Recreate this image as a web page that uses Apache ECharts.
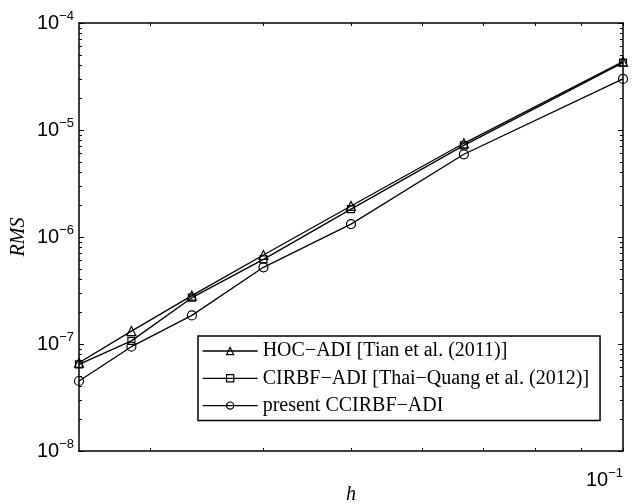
<!DOCTYPE html>
<html>
<head>
<meta charset="utf-8">
<script src="https://cdn.jsdelivr.net/npm/echarts@6/dist/echarts.min.js"></script>
<style>
  html, body { margin: 0; padding: 0; background: #fff; }
  #chart { width: 640px; height: 504px; }
</style>
</head>
<body>
<div id="chart"></div>
<script>
// Grid spacing h and RMS errors of the three ADI schemes
const gridSizes = [1 / 40, 1 / 35, 1 / 30, 1 / 25, 1 / 20, 1 / 15, 1 / 10];
const hocAdi    = [6.68e-8, 1.32e-7, 2.83e-7, 6.79e-7, 1.95e-6, 7.51e-6, 4.35e-5];
const cirbfAdi  = [6.46e-8, 1.07e-7, 2.71e-7, 6.18e-7, 1.82e-6, 7.19e-6, 4.26e-5];
const ccirbfAdi = [4.51e-8, 9.44e-8, 1.85e-7, 5.21e-7, 1.32e-6, 5.93e-6, 3.00e-5];
const seriesNames = [
  'HOC\u2212ADI [Tian et al. (2011)]',
  'CIRBF\u2212ADI [Thai\u2212Quang et al. (2012)]',
  'present CCIRBF\u2212ADI'
];

// Axis ranges and tick positions
const xMin = 0.025, xMax = 0.1;
const yMin = 1e-8, yMax = 1e-4;
const xTicks = [0.03, 0.04, 0.05, 0.06, 0.07, 0.08, 0.09, 0.1];
const xLabels = [0.1];
const yDecades = [1e-8, 1e-7, 1e-6, 1e-5, 1e-4];
const minorMultipliers = [2, 3, 4, 5, 6, 7, 8, 9];

const yMinorTicks = [];
yDecades.slice(0, -1).forEach(d => minorMultipliers.forEach(m => yMinorTicks.push(m * d)));

const sans = 'Liberation Sans, Arial, Helvetica, sans-serif';
const serif = 'Liberation Serif, Times New Roman, serif';

const powerRich = {
  b: { fontFamily: sans, fontSize: 20, lineHeight: 26, color: '#000' },
  s: { fontFamily: sans, fontSize: 13, lineHeight: 13, color: '#000', verticalAlign: 'top' }
};
function powerLabel(v) {
  const e = Math.round(Math.log10(v));
  return '{b|10}{s|' + (e < 0 ? '\u2212' + (-e) : e) + '}';
}

const frameLine = { show: true, lineStyle: { color: '#000', width: 1.5 } };
const hollow = { color: 'rgba(255,255,255,0)', borderColor: '#000', borderWidth: 1.2 };

function xAxisDef(position, withLabels) {
  return {
    type: 'log', logBase: 10, position: position, min: xMin, max: xMax,
    axisLine: frameLine,
    axisTick: { show: true, inside: true, length: 3, customValues: xTicks,
                lineStyle: { color: '#000', width: 1 } },
    axisLabel: withLabels
      ? { show: true, customValues: xLabels, formatter: powerLabel, rich: powerRich,
          align: 'right', margin: 16 }
      : { show: false },
    splitLine: { show: false },
    minorTick: { show: false },
    name: withLabels ? 'h' : '',
    nameLocation: 'middle',
    nameGap: 34,
    nameMoveOverlap: false,
    nameTextStyle: { fontFamily: serif, fontStyle: 'italic', fontSize: 20, color: '#000' }
  };
}

function yAxisDef(position, major, withLabels) {
  return {
    type: 'log', logBase: 10, position: position, min: yMin, max: yMax,
    axisLine: major ? frameLine : { show: false },
    axisTick: { show: true, inside: true, length: major ? 5 : 3,
                customValues: major ? yDecades : yMinorTicks,
                lineStyle: { color: '#000', width: 1 } },
    axisLabel: withLabels
      ? { show: true, customValues: yDecades, formatter: powerLabel, rich: powerRich, margin: 5 }
      : { show: false },
    splitLine: { show: false },
    minorTick: { show: false },
    name: withLabels ? 'RMS' : '',
    nameLocation: 'middle',
    nameGap: 50,
    nameMoveOverlap: false,
    nameTextStyle: { fontFamily: serif, fontStyle: 'italic', fontSize: 20, color: '#000' }
  };
}

function lineSeries(name, values, symbol, size) {
  return {
    name: name,
    type: 'line',
    xAxisIndex: 0,
    yAxisIndex: 0,
    data: gridSizes.map((h, i) => [h, values[i]]),
    symbol: symbol,
    symbolSize: size,
    showAllSymbol: true,
    lineStyle: { color: '#000', width: 1.3 },
    itemStyle: hollow,
    emphasis: { disabled: true },
    z: 3
  };
}

const chart = echarts.init(document.getElementById('chart'), null, { renderer: 'canvas' });
chart.setOption({
  animation: false,
  backgroundColor: '#fff',
  grid: { left: 79, right: 17, top: 23, bottom: 53, containLabel: false, outerBoundsMode: 'none' },
  xAxis: [xAxisDef('bottom', true), xAxisDef('top', false)],
  yAxis: [
    yAxisDef('left', true, true),
    yAxisDef('right', true, false),
    yAxisDef('left', false, false),
    yAxisDef('right', false, false)
  ],
  legend: {
    orient: 'vertical',
    left: 198,
    top: 336,
    itemWidth: 55,
    itemHeight: 9,
    itemGap: 7.3,
    padding: [5, 11, 5, 4],
    borderColor: '#000',
    borderWidth: 1.5,
    backgroundColor: '#fff',
    selectedMode: false,
    itemStyle: hollow,
    lineStyle: { color: '#000', width: 1.3 },
    textStyle: { fontFamily: serif, fontSize: 20, color: '#000' },
    data: seriesNames
  },
  series: [
    lineSeries(seriesNames[0], hocAdi, 'triangle', 9),
    lineSeries(seriesNames[1], cirbfAdi, 'rect', 7),
    lineSeries(seriesNames[2], ccirbfAdi, 'circle', 9)
  ]
});
</script>
</body>
</html>
